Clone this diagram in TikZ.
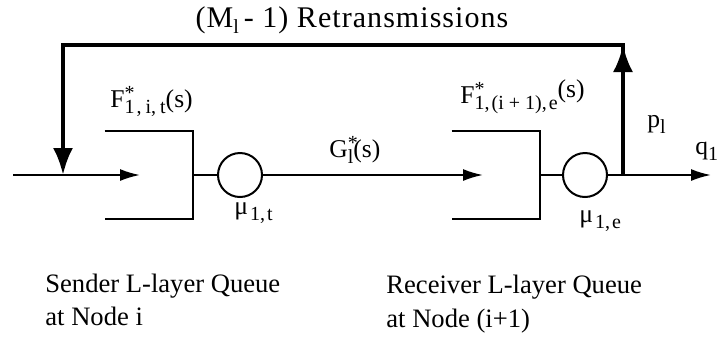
\documentclass[tikz,border=0pt]{standalone}
\usepackage{fontspec}
\setmainfont{Liberation Serif}
\usetikzlibrary{arrows.meta}
\newcommand{\lo}[1]{\raisebox{-3pt}{\fontsize{10}{12}\selectfont #1}}
\newcommand{\hi}[1]{\raisebox{4pt}{\fontsize{10}{12}\selectfont #1}}
\begin{document}
\begin{tikzpicture}[x=0.5pt, y=-0.5pt, font=\fontsize{12.8}{16}\selectfont]
    \tikzstyle{line}=[line width=1pt]
    \tikzstyle{flow}=[line, -{Latex[length=10pt, width=6pt]}]
    \tikzstyle{retry}=[line width=2pt, -{Latex[length=13.5pt, width=10pt]}]
    \tikzstyle{server}=[draw, line width=1pt, circle, minimum size=22pt, inner sep=0pt]
    \tikzstyle{queue}=[minimum width=44pt, minimum height=44pt, inner sep=0pt]
    \tikzstyle{label}=[anchor=base west, inner sep=0pt]
    \tikzstyle{caption}=[label, font=\fontsize{13.3}{16}\selectfont]

    \useasboundingbox (0,0) rectangle (719,350);

    \node[queue] (qS) at (149,175) {};
    \node[server] (sS) at (240,175) {};
    \node[queue] (qR) at (496,175) {};
    \node[server] (sR) at (585,175) {};

    \coordinate (in) at (13,175);
    \coordinate (inS) at (140,175);
    \coordinate (inR) at (483,175);
    \coordinate (out) at (711,175);
    \coordinate (split) at (623,175);
    \coordinate (topR) at (623,45);
    \coordinate (topL) at (63,45);
    \coordinate (join) at (63,175);

    \draw[line] (qS.north west) -- (qS.north east) -- (qS.south east) -- (qS.south west);
    \draw[line] (qR.north west) -- (qR.north east) -- (qR.south east) -- (qR.south west);

    \draw[flow] (in) -- (inS);
    \draw[line] (qS.east) -- (sS);
    \draw[flow] (sS) -- (inR);
    \draw[line] (qR.east) -- (sR);
    \draw[flow] (sR) -- (out);

    \draw[retry] (split) -- (topR) -- (topL) -- (join);
    \draw[retry] (split) -- (topR);

    \node[anchor=base, inner sep=0pt, font=\fontsize{15}{16}\selectfont\addfontfeature{LetterSpace=3.5}] (retx) at (352,27) {(M\lo{l}\,- 1) Retransmissions};
    \node[label] (fS) at (110,107) {F\rlap{\hi{*}}\lo{1\hspace{1pt},\hspace{2pt}i,\hspace{2pt}t}(s)};
    \node[label] (muS) at (234,214) {μ\hspace{1pt}\lo{1,\hspace{1pt}t}};
    \node[label] (gl) at (329,157) {G\rlap{\hi{*}}\lo{l}(s)};
    \node[label] (fR) at (460,103) {F\rlap{\hi{*}}\lo{1,\hspace{1pt}(i + 1),\hspace{1pt}e}\raisebox{3pt}{(s)}};
    \node[label] (muR) at (579,222) {μ\hspace{1pt}\lo{1,\hspace{1pt}e}};
    \node[label] (pl) at (647,127) {p\lo{l}};
    \node[label] (ql) at (695,154) {q\lo{1}};

    \node[caption] (snd) at (45,292) {Sender L-layer Queue};
    \node[caption] (sndAt) at (45,325) {at Node i};
    \node[caption] (rcv) at (386,293) {Receiver L-layer Queue};
    \node[caption] (rcvAt) at (386,327) {at Node (i+1)};
\end{tikzpicture}
\end{document}
